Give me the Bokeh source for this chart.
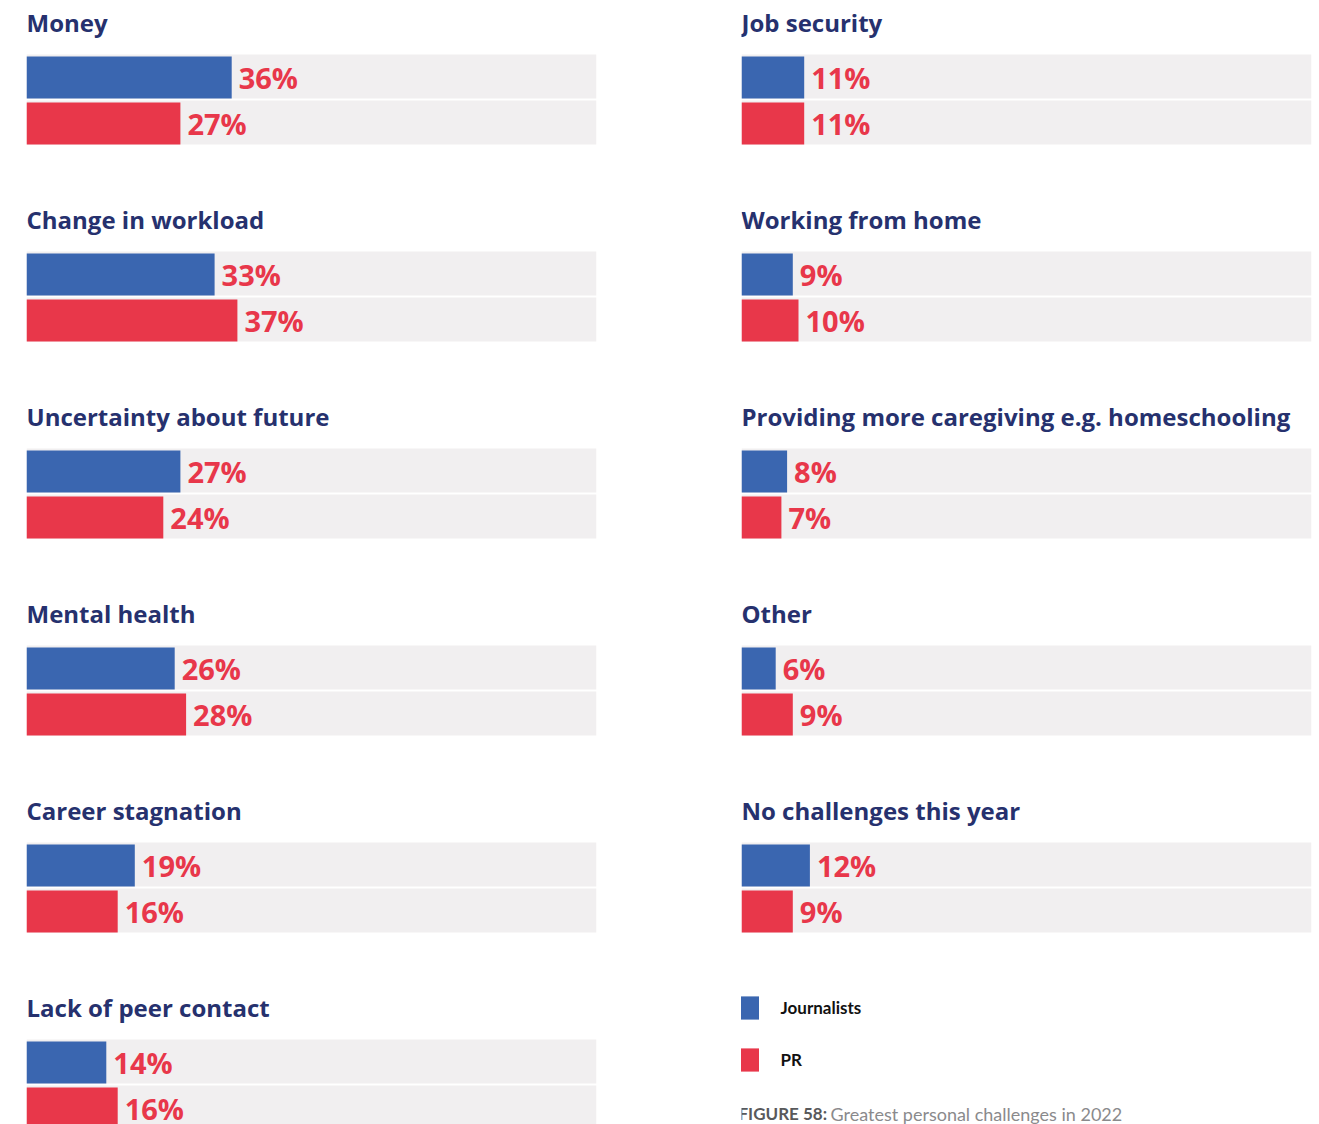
from bokeh.plotting import figure
from bokeh.layouts import gridplot
from bokeh.models import ColumnDataSource, Range1d, Label, Legend, LegendItem
from bokeh.embed import file_html
from bokeh.resources import INLINE
from bokeh.core.properties import value

# ---- data ----
left_categories = ["Money", "Change in workload", "Uncertainty about future",
                   "Mental health", "Career stagnation", "Lack of peer contact"]
left_journalists = [36, 33, 27, 26, 19, 14]
left_pr = [27, 37, 24, 28, 16, 16]

right_categories = ["Job security", "Working from home",
                    "Providing more caregiving e.g. homeschooling",
                    "Other", "No challenges this year"]
right_journalists = [11, 9, 8, 6, 12]
right_pr = [11, 10, 7, 9, 9]

series = ["Journalists", "PR"]
caption_bold = "FIGURE 58:"
caption_text = "Greatest personal challenges in 2022"

# ---- style ----
BLUE = "#3a66b0"
RED = "#e8374a"
NAVY = "#26316e"
BG = "#f1eff0"
FONT = "Open Sans"
ROW_H = 197
LAST_H = 139
FRAME_W = 570


def base_fig(width, height, pad_l):
    p = figure(width=width, height=height, x_range=Range1d(0, 100),
               y_range=Range1d(height, 0), output_backend="svg",
               toolbar_location=None, x_axis_location=None, y_axis_location=None,
               min_border_left=pad_l, min_border_right=width - pad_l - FRAME_W,
               min_border_top=0, min_border_bottom=0)
    p.outline_line_color = None
    p.grid.visible = False
    p.background_fill_color = "white"
    p.border_fill_color = "white"
    return p


def make_panel(title, j, r, width, height, pad_l):
    p = base_fig(width, height, pad_l)
    centers = [77, 123]
    src = ColumnDataSource(dict(
        y=centers,
        ybg=[c - 1 for c in centers],
        v=[j, r],
        color=[BLUE, RED],
        label=[f"{j}%", f"{r}%"],
    ))
    p.hbar(y="ybg", left=0, right=100, height=44, fill_color=BG,
           line_color=None, source=src)
    p.hbar(y="y", left=0, right="v", height=42, fill_color="color",
           line_color=None, source=src)
    p.text(x="v", y="y", text="label", x_offset=7, text_font=value(FONT),
           text_font_style="bold", text_font_size="29px", text_color=RED,
           text_baseline="middle", text_align="left", source=src)
    p.add_layout(Label(x=0, y=22, text=title, text_font=FONT,
                       text_font_style="bold", text_font_size="24px",
                       text_color=NAVY, text_baseline="middle"))
    return p


def make_legend(width, height, pad_l):
    p = base_fig(width, height, pad_l)
    nan = float("nan")
    rj = p.quad(left=[nan], right=[nan], top=[nan], bottom=[nan],
                fill_color=BLUE, line_color=None)
    rp = p.quad(left=[nan], right=[nan], top=[nan], bottom=[nan],
                fill_color=RED, line_color=None)
    legend = Legend(items=[LegendItem(label=series[0], renderers=[rj]),
                           LegendItem(label=series[1], renderers=[rp])],
                    location=(-5.5, 50), orientation="vertical",
                    glyph_width=25, glyph_height=29, label_standoff=20,
                    spacing=23, padding=0, margin=0,
                    border_line_color=None, background_fill_alpha=0,
                    label_text_font="Lato", label_text_font_size="17px",
                    label_text_font_style="bold", label_text_color="#111111")
    p.add_layout(legend, "center")
    p.add_layout(Label(x=0, y=128, x_offset=-3, text=caption_bold, text_font="Lato",
                       text_font_style="bold", text_font_size="17px",
                       text_color="#58595b", text_baseline="middle"))
    p.add_layout(Label(x=0, y=128, x_offset=89, text=caption_text, text_font="Lato",
                       text_font_size="18px",
                       text_color="#8a8a8c", text_baseline="middle"))
    return p


LEFT_W, LEFT_PAD = 723, 26
RIGHT_W, RIGHT_PAD = 596, 18

rows = []
for i in range(6):
    h = ROW_H if i < 5 else LAST_H
    lp = make_panel(left_categories[i], left_journalists[i], left_pr[i], LEFT_W, h, LEFT_PAD)
    if i < 5:
        rp = make_panel(right_categories[i], right_journalists[i], right_pr[i],
                        RIGHT_W, h, RIGHT_PAD)
    else:
        rp = make_legend(RIGHT_W, h, RIGHT_PAD)
    rows.append([lp, rp])

grid = gridplot(rows, toolbar_location=None)

open("out.html", "w").write(file_html(grid, INLINE))
